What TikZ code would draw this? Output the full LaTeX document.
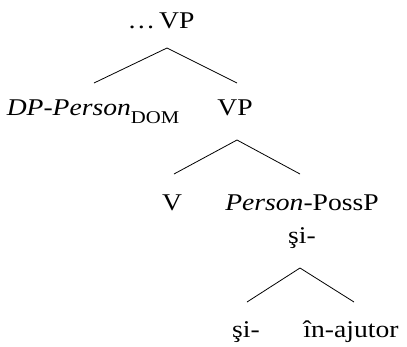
\documentclass[tikz,border=0pt]{standalone}
\usepackage{fontspec}
\setmainfont[FakeStretch=1.15]{Liberation Serif}
\begin{document}
\begin{tikzpicture}[x=1pt,y=-1pt,
  lbl/.style={anchor=base,inner sep=0pt,font=\fontsize{24}{27}\selectfont},
  branch/.style={line width=0.8pt,black}]
\useasboundingbox (0,0) rectangle (407,346);
\node[lbl] (top) at (161,28) {…\,VP};
\node[lbl] (dp) at (93,115) {\textit{DP-Person}\raisebox{-8pt}{\fontsize{18}{19}\selectfont DOM}};
\node[lbl] (vp) at (235,115) {VP};
\node[lbl] (v) at (172,210) {V};
\node[lbl] (poss) at (302,210) {\textit{Person}-PossP};
\node[lbl] (si) at (302,243) {şi-};
\node[lbl] (si2) at (246,337) {şi-};
\node[lbl] (aj) at (351,337) {în-ajutor};
\draw[branch] ([xshift=1pt,yshift=32pt]dp.base) -- ([xshift=6pt,yshift=-20pt]top.base) -- ([xshift=2pt,yshift=32pt]vp.base);
\draw[branch] ([xshift=2pt,yshift=36pt]v.base) -- ([xshift=2pt,yshift=-25pt]vp.base) -- ([xshift=-2pt,yshift=36pt]poss.base);
\draw[branch] ([xshift=1pt,yshift=35pt]si2.base) -- ([xshift=-2pt,yshift=-25pt]si.base) -- ([xshift=3pt,yshift=35pt]aj.base);
\end{tikzpicture}
\end{document}
